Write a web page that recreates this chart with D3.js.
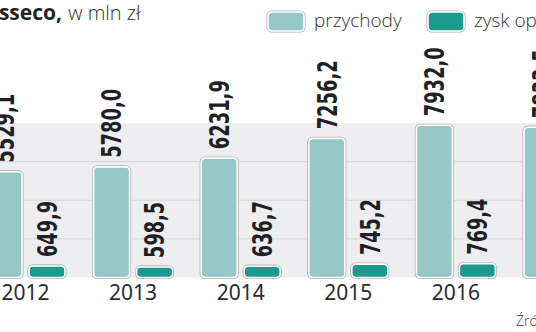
<!DOCTYPE html>
<html>
<head>
<meta charset="utf-8">
<title>Asseco, w mln zł</title>
<script src="https://cdnjs.cloudflare.com/ajax/libs/d3/7.8.5/d3.min.js"></script>
<style>
  body { margin: 0; background: #fff; }
  svg { display: block; }
</style>
</head>
<body>
<div id="chart"></div>

<script type="text/javascript">
// chart data
var years = ["2012", "2013", "2014", "2015", "2016", "2017"];
var przychody = [5529.1, 5780.0, 6231.9, 7256.2, 7932.0, 7833.5];
var zysk = [649.9, 598.5, 636.7, 745.2, 769.4, 790.0];
var gridTicks = [0, 2000, 4000, 6000, 8000];
var seriesNames = ["przychody", "zysk operacyjny"];
var seriesColors = ["#96c9c6", "#1c9a8d"];

var width = 536, height = 332;

var svg = d3.select("#chart").append("svg")
    .attr("width", width)
    .attr("height", height);

// scales
var y = d3.scaleLinear().domain([0, 8000]).range([277.5, 123]);
var xCenter = d3.scalePoint().domain(years).range([25.5, 25.5 + 107.6 * (years.length - 1)]);
var xSeries = d3.scaleBand().domain([0, 1]).range([-40.5, 40.5]).paddingInner(0.116);

// grey plot band with gridlines
svg.append("rect")
    .attr("x", 0)
    .attr("y", y(8000))
    .attr("width", width)
    .attr("height", y(0) - y(8000))
    .attr("fill", "#eeeef0");

svg.selectAll("line.grid")
    .data(gridTicks.slice(1, -1))
    .enter().append("line")
    .attr("class", "grid")
    .attr("x1", 0).attr("x2", width)
    .attr("y1", function(d) { return y(d); })
    .attr("y2", function(d) { return y(d); })
    .attr("stroke", "#d6d6da")
    .attr("stroke-width", 1);

// rows of bars: one entry per bar
var bars = [];
years.forEach(function(yr, i) {
    bars.push({ year: yr, s: 0, v: przychody[i] });
    bars.push({ year: yr, s: 1, v: zysk[i] });
});

function fmt(v) {
    return v.toFixed(1).replace(".", ",");
}

var g = svg.selectAll("g.bar")
    .data(bars)
    .enter().append("g")
    .attr("class", "bar")
    .attr("transform", function(d) {
        return "translate(" + (xCenter(d.year) + xSeries(d.s)) + ",0)";
    });

// grey outline, then white inner edge
g.append("rect")
    .attr("x", 1)
    .attr("y", function(d) { return y(d.v) + 1; })
    .attr("width", xSeries.bandwidth() - 2)
    .attr("height", function(d) { return y(0) - y(d.v) - 1; })
    .attr("rx", 4)
    .attr("fill", "none")
    .attr("stroke", "#b3b5b7")
    .attr("stroke-width", 3.2);

g.append("rect")
    .attr("x", 1)
    .attr("y", function(d) { return y(d.v) + 1; })
    .attr("width", xSeries.bandwidth() - 2)
    .attr("height", function(d) { return y(0) - y(d.v) - 1; })
    .attr("rx", 4)
    .attr("fill", function(d) { return seriesColors[d.s]; })
    .attr("stroke", "#ffffff")
    .attr("stroke-width", 1.6);

// rotated value labels
g.append("text")
    .attr("transform", function(d) {
        return "translate(" + (xSeries.bandwidth() / 2) + "," + (y(d.v) - 8) + ") rotate(-90)";
    })
    .attr("dy", "0.36em")
    .attr("text-anchor", "start")
    .attr("font-family", "'Liberation Sans Narrow', 'DejaVu Sans Condensed', 'Liberation Sans', sans-serif")
    .attr("font-weight", "bold")
    .attr("font-size", 27)
    .attr("fill", "#1f1f25")
    .attr("textLength", function(d) {
        var s = fmt(d.v);
        return (s.length - 1) * 13 + 4;
    })
    .attr("lengthAdjust", "spacingAndGlyphs")
    .text(function(d) { return fmt(d.v); });

// year labels
svg.selectAll("text.year")
    .data(years)
    .enter().append("text")
    .attr("class", "year")
    .attr("x", function(d) { return xCenter(d); })
    .attr("y", 300)
    .attr("text-anchor", "middle")
    .attr("font-family", "'Noto Sans', 'Open Sans', sans-serif")
    .attr("font-size", 21)
    .attr("fill", "#2b2b30")
    .text(function(d) { return d; });

// title
svg.append("text")
    .attr("x", 62)
    .attr("y", 20)
    .attr("text-anchor", "end")
    .attr("font-family", "'Open Sans', 'Noto Sans', sans-serif")
    .attr("font-weight", "bold")
    .attr("font-size", 21)
    .attr("fill", "#222")
    .text("Asseco,");

svg.append("text")
    .attr("x", 68)
    .attr("y", 20)
    .attr("font-family", "'Open Sans', 'Noto Sans', sans-serif")
    .attr("font-weight", 300)
    .attr("font-size", 20)
    .attr("fill", "#333")
    .text("w mln zł");

// legend
var legendX = [268, 428];
var legend = svg.selectAll("g.legend")
    .data(seriesNames)
    .enter().append("g")
    .attr("class", "legend")
    .attr("transform", function(d, i) { return "translate(" + legendX[i] + ",12)"; });

legend.append("rect")
    .attr("x", 0).attr("y", 0)
    .attr("width", 36).attr("height", 19)
    .attr("rx", 4)
    .attr("fill", "none")
    .attr("stroke", "#b3b5b7")
    .attr("stroke-width", 3.2);

legend.append("rect")
    .attr("x", 0).attr("y", 0)
    .attr("width", 36).attr("height", 19)
    .attr("rx", 4)
    .attr("fill", function(d, i) { return seriesColors[i]; })
    .attr("stroke", "#fff")
    .attr("stroke-width", 1.6);

legend.append("text")
    .attr("x", 46)
    .attr("y", 15)
    .attr("font-family", "'Open Sans', 'Noto Sans', sans-serif")
    .attr("font-weight", 300)
    .attr("font-size", 19)
    .attr("fill", "#333")
    .text(function(d) { return d; });

// source note
svg.append("text")
    .attr("x", 516)
    .attr("y", 326)
    .attr("font-family", "'Open Sans', 'Noto Sans', sans-serif")
    .attr("font-weight", 300)
    .attr("font-size", 14)
    .attr("fill", "#333")
    .text("Źródło: spółka");
</script>
</body>
</html>
